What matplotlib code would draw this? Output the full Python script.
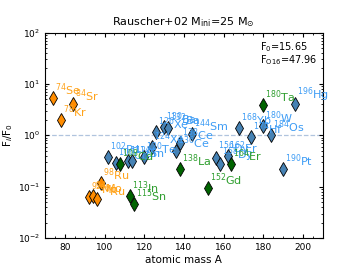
import numpy as np
import matplotlib.pyplot as plt

# p-nuclei: mass number, element, F_i/F_0, group
orange_A = [74, 78, 84, 92, 94, 96, 98]
orange_el = ['Se', 'Kr', 'Sr', 'Mo', 'Mo', 'Ru', 'Ru']
orange_y = [5.25, 2.0, 4.0, 0.064, 0.066, 0.057, 0.12]

blue_A = [102, 106, 112, 114, 120, 124, 126, 130, 132, 136, 138, 144,
          156, 158, 162, 168, 174, 180, 184, 190, 196]
blue_el = ['Pd', 'Cd', 'Sn', 'Sn', 'Te', 'Xe', 'Xe', 'Ba', 'Ba', 'Ce', 'Ce', 'Sm',
           'Dy', 'Dy', 'Er', 'Yb', 'Hf', 'W', 'Os', 'Pt', 'Hg']
blue_y = [0.37, 0.285, 0.31, 0.31, 0.37, 0.60, 1.14, 1.43, 1.37, 0.50, 0.70, 1.06,
          0.356, 0.277, 0.395, 1.37, 0.91, 1.52, 1.01, 0.22, 4.0]

green_A = [108, 113, 115, 138, 152, 164, 180]
green_el = ['Cd', 'In', 'Sn', 'La', 'Gd', 'Er', 'Ta']
green_y = [0.27, 0.067, 0.046, 0.22, 0.095, 0.277, 3.89]

F0 = 15.65
FO16 = 47.96

fig = plt.figure(figsize=(3.59, 2.69), dpi=100)
ax = fig.add_axes([0.1253, 0.1152, 0.7737, 0.7638])

groups = [
    (orange_A, orange_el, orange_y, 'darkorange', '#ffa31a'),
    (blue_A, blue_el, blue_y, 'steelblue', '#3d9cf5'),
    (green_A, green_el, green_y, 'darkgreen', '#2e9e2e'),
]
for A, el, y, fc, tc in groups:
    ax.plot(A, y, 'd', ms=7, mfc=fc, mec='k', mew=0.6, ls='none', zorder=3)
    for a, e, v in zip(A, el, y):
        ax.text(a + 1, v, r'$^{%d}$%s' % (a, e), color=tc, fontsize=8,
                ha='left', va='bottom', zorder=4)

ax.axhline(1.0, color='lightsteelblue', ls='--', lw=0.9, zorder=1)

ax.set_yscale('log')
ax.set_xlim(70, 210)
ax.set_ylim(1e-2, 1e2)
ax.set_xticks([80, 100, 120, 140, 160, 180, 200])
ax.minorticks_on()
ax.tick_params(which='both', direction='in', top=True, right=True, labelsize=6.5)
ax.tick_params(which='major', length=3)
ax.tick_params(which='minor', length=1.5)

ax.set_xlabel('atomic mass A', fontsize=7.5, labelpad=2)
ax.set_ylabel(r'F$_i$/F$_0$', fontsize=7.5, labelpad=2)
ax.set_title(r'Rauscher+02 M$_{\rm ini}$=25 M$_{\odot}$', fontsize=8, pad=5)

ax.text(0.775, 0.93, r'F$_0$=%.2f' % F0, transform=ax.transAxes, fontsize=7, va='center')
ax.text(0.775, 0.865, r'F$_{\rm O16}$=%.2f' % FO16, transform=ax.transAxes, fontsize=7, va='center')

fig.savefig('out.png', dpi=100)
